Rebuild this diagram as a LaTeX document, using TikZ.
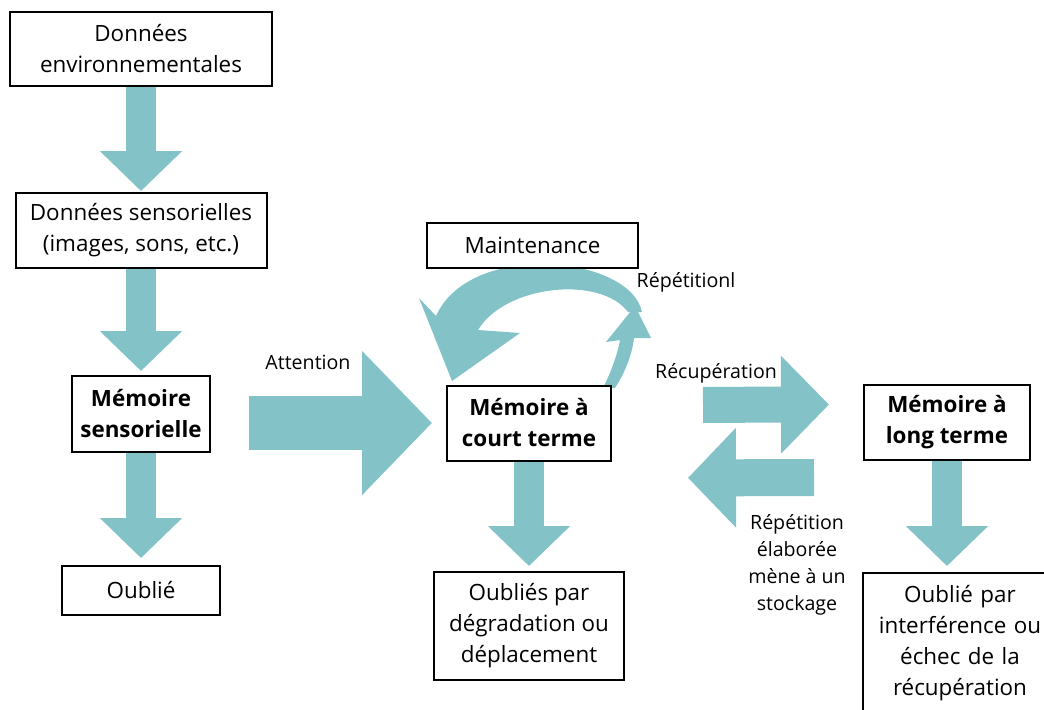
\documentclass[tikz,border=0pt]{standalone}
\usepackage{fontspec}
\setmainfont{Open Sans}
\usetikzlibrary{arrows.meta}
\definecolor{memteal}{HTML}{83C3C8}
\begin{document}
\begin{tikzpicture}[x=0.5pt,y=-0.5pt,
  box/.style={draw,line width=1pt,fill=white,align=center,inner sep=0pt,font=\fontsize{11.2}{15.5}\selectfont},
  membox/.style={box,font=\fontsize{11.2}{15.5}\selectfont\bfseries},
  lbl/.style={align=center,inner sep=0pt,font=\fontsize{9.8}{13.5}\selectfont},
  downflow/.style={memteal,line width=15pt,-{Triangle[width=40pt,length=20pt]}}]
\useasboundingbox (0,0) rectangle (1044,709);
\clip (0,0) rectangle (1044,709);
\fill[memteal] (642,312) .. controls (630,255) and (470,240) .. (436,316)
  -- (419,298) -- (452,381) -- (520,333) -- (478,330)
  .. controls (505,285) and (600,275) .. (628,312) -- cycle;
\fill[memteal] (603,388) .. controls (612,370) and (618,352) .. (620,340)
  -- (606,342) -- (635,306) -- (651,338) -- (634,338)
  .. controls (632,356) and (624,374) .. (615,388) -- cycle;
\node[box,minimum width=131pt,minimum height=37pt] (env) at (141,49) {Données\\environnementales};
\node[box,minimum width=125.5pt,minimum height=37.5pt] (sens) at (141,230.5) {Données sensorielles\\(images, sons, etc.)};
\node[membox,minimum width=69pt,minimum height=38pt] (sensmem) at (141,414) {Mémoire\\sensorielle};
\node[box,minimum width=79pt,minimum height=24.5pt] (oubli) at (141,590.5) {Oublié};
\node[membox,minimum width=82pt,minimum height=37.5pt] (stm) at (529,423) {Mémoire à\\court terme};
\node[box,minimum width=95pt,minimum height=54pt] (stmforget) at (529,626) {Oubliés par\\dégradation ou\\déplacement};
\node[box,minimum width=105.5pt,minimum height=22.5pt] (maint) at (532.5,245.5) {Maintenance};
\node[membox,minimum width=83pt,minimum height=37.5pt] (ltm) at (947,422.5) {Mémoire à\\long terme};
\node[box,text width=97pt,minimum height=70.5pt] (ltmforget) at (960,643.5) {Oublié par\\interférence ou\\échec de la\\récupération};
\node[lbl] (attlabel) at (308,362) {Attention};
\node[lbl] (replabel) at (686,282) {Répétitionl};
\node[lbl] (reclabel) at (716,373) {Récupération};
\node[lbl] (stocklabel) at (797,565) {Répétition\\élaborée\\mène à un\\stockage};
\draw[downflow,shorten >=0.5pt] (env) -- (sens);
\draw[downflow,shorten >=2pt] (sens) -- (sensmem);
\draw[downflow,shorten >=3.5pt] (sensmem) -- (oubli);
\draw[downflow,shorten >=2.5pt] (stm) -- (stmforget);
\draw[downflow,shorten >=3pt] (ltm.south) -- (ltm.south |- ltmforget.north);
\draw[memteal,line width=27pt,-{Triangle[width=70pt,length=35pt]},shorten <=19pt,shorten >=7pt] (sensmem.east |- stm.west) -- (stm.west);
\draw[memteal,line width=18pt,-{Triangle[width=47.5pt,length=24pt]},shorten <=45.5pt,shorten >=17pt] ([yshift=9pt]stm.east) -- ([yshift=9pt]ltm.west);
\draw[memteal,line width=18.5pt,-{Triangle[width=48.5pt,length=24pt]},shorten <=24.5pt,shorten >=38pt] ([yshift=-27.5pt]ltm.west) -- ([yshift=-27.5pt]stm.east);
\end{tikzpicture}
\end{document}
